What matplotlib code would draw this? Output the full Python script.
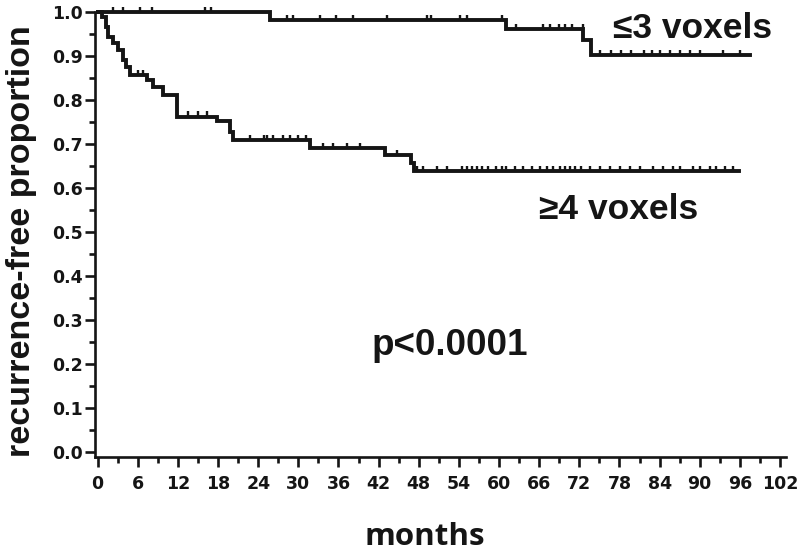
import numpy as np
import matplotlib
matplotlib.use("Agg")
import matplotlib.pyplot as plt
from matplotlib.ticker import MultipleLocator

# <=3 voxels group: step times (months) and survival after each step
low_times = [0, 25.8, 61.1, 72.6, 73.8, 97.5]
low_surv = [1.0, 0.982, 0.961, 0.936, 0.902, 0.902]
low_cens_t = [2.3, 3.8, 6.3, 8.1, 16.0, 17.0,
              28.3, 29.2, 33.2, 35.7, 38.2, 43.2, 49.2, 49.9, 54.2, 55.2, 60.4,
              62.6, 66.6, 67.6, 68.9, 69.9, 70.9, 72.5,
              75.1, 76.8, 78.3, 79.8, 81.6, 82.8, 84.1, 85.5, 87.0, 88.5, 90.0,
              93.5, 96.0]

# >=4 voxels group
high_times = [0, 0.6, 1.3, 1.6, 2.3, 3.1, 3.8, 4.3, 4.8, 7.3, 8.3, 9.8, 11.8,
              17.8, 19.8, 20.3, 31.7, 42.9, 46.9, 47.3, 95.8]
high_surv = [1.0, 0.989, 0.967, 0.944, 0.929, 0.914, 0.891, 0.876, 0.857,
             0.845, 0.830, 0.811, 0.762, 0.751, 0.728, 0.709, 0.691, 0.674,
             0.657, 0.638, 0.638]
high_cens_t = [6.0, 6.8, 13.5, 15.0, 16.3, 22.8, 24.8, 25.3, 26.2, 27.7, 28.7,
               30.0, 31.2, 33.7, 35.2, 37.2, 39.2, 44.7,
               47.7, 48.7, 50.7, 52.2, 54.4, 55.2, 55.9, 56.7, 57.4, 58.4,
               59.6, 60.4, 61.1, 62.4, 63.6, 64.9, 66.1, 67.1, 68.1, 69.1,
               69.8, 70.6, 71.3, 72.3, 73.6, 75.1, 76.6, 78.1, 79.6, 81.1,
               83.0, 84.5, 86.0, 87.0, 89.0, 90.0, 91.5, 92.5, 93.8, 95.0]

x_ticks = list(range(0, 103, 6))
y_ticks = [0.0, 0.1, 0.2, 0.3, 0.4, 0.5, 0.6, 0.7, 0.8, 0.9, 1.0]

ink = "#151515"


def surv_at(times, surv, t):
    idx = np.searchsorted(times, t, side="right") - 1
    return np.asarray(surv)[idx]


fig = plt.figure(figsize=(8.0, 5.51), dpi=100)
ax = fig.add_axes([0.11875, 0.1706, 0.86375, 0.8076])

for times, surv, cens in [(low_times, low_surv, low_cens_t),
                          (high_times, high_surv, high_cens_t)]:
    ax.step(times, surv, where="post", color=ink, lw=2.8, clip_on=False,
            solid_joinstyle="miter")
    ax.plot(cens, surv_at(times, surv, cens) + 0.005, ls="none", marker="|",
            ms=5, mew=1.7, color=ink, clip_on=False)

ax.set_xlim(-0.4, 102.9)
ax.set_ylim(-0.012, 1.0)

for s in ["top", "right"]:
    ax.spines[s].set_visible(False)
for s in ["left", "bottom"]:
    ax.spines[s].set_linewidth(1.9)
    ax.spines[s].set_color(ink)

ax.set_xticks(x_ticks)
ax.set_yticks(y_ticks)
ax.set_yticklabels([f"{v:.1f}" for v in y_ticks])
ax.xaxis.set_minor_locator(MultipleLocator(3))
ax.yaxis.set_minor_locator(MultipleLocator(0.05))
ax.tick_params(which="major", length=7, width=1.9, color=ink)
ax.tick_params(which="minor", length=4, width=1.9, color=ink)
ax.tick_params(axis="x", pad=6)
ax.tick_params(axis="y", pad=2)
for lab in ax.get_xticklabels() + ax.get_yticklabels():
    lab.set_fontfamily("DejaVu Sans")
    lab.set_fontweight("bold")
    lab.set_fontsize(12.5)
    lab.set_color(ink)

fig.text(425 / 800, 1 - 545 / 551, "months", fontfamily="Open Sans",
         fontweight="bold", fontsize=22.5, color=ink, ha="center",
         va="baseline")
fig.text(22 / 800, 1 - 241 / 551, "recurrence-free proportion",
         fontfamily="Liberation Sans", fontweight="bold", fontsize=24.5,
         color=ink, rotation=90, ha="center", va="center")

txt = dict(fontfamily="Liberation Sans", fontweight="bold", color=ink,
           ha="left", va="center")
ax.text(77.0, 0.962, "≤3 voxels", fontsize=25.5, **txt)
ax.text(66.0, 0.551, "≥4 voxels", fontsize=25.5, **txt)
ax.text(41.0, 0.241, "p<0.0001", fontsize=26.5, **txt)

fig.savefig("out.png", dpi=100)
